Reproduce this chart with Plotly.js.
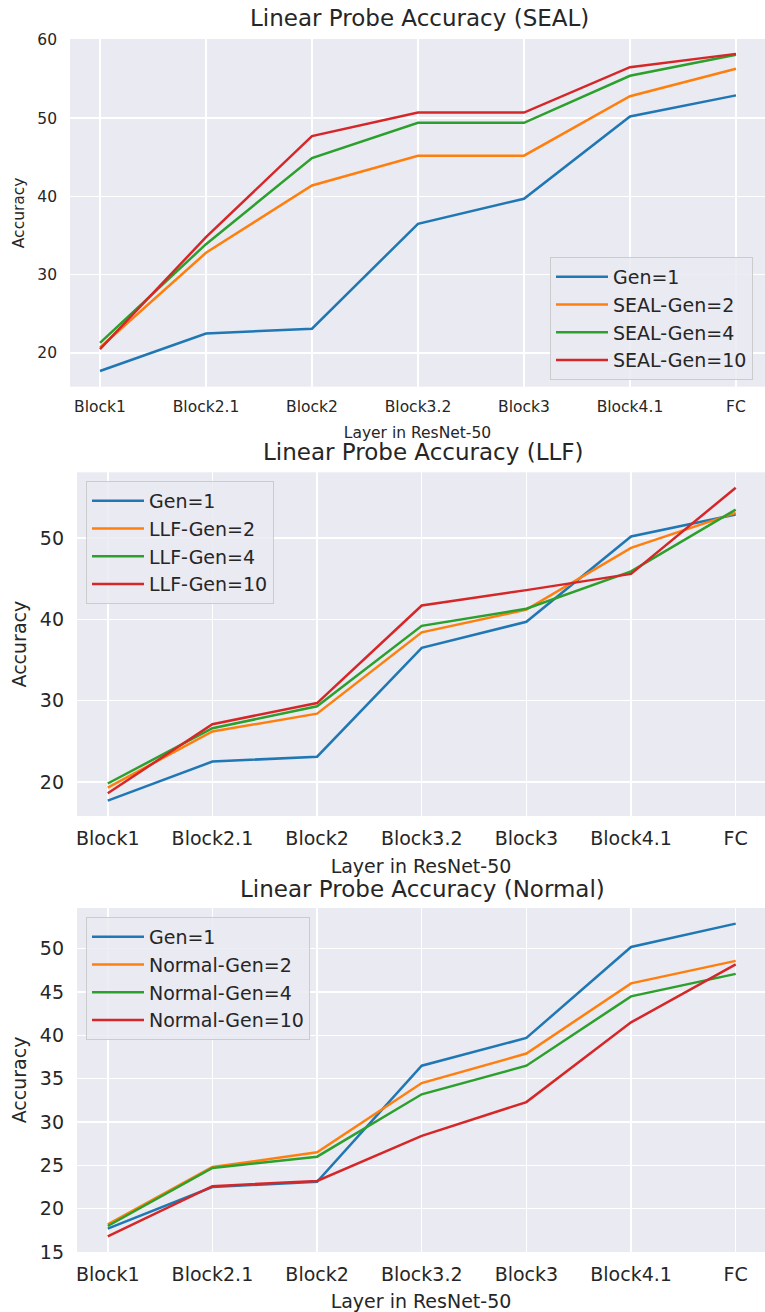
<!DOCTYPE html>
<html>
<head>
<meta charset="utf-8">
<script src="https://cdn.plot.ly/plotly-3.0.1.min.js"></script>
<style>html,body{margin:0;padding:0;background:#fff;}#chart{width:765px;height:1312px;}</style>
</head>
<body>
<div id="chart"></div>
<script>
// ---- data ----
const layers = ['Block1','Block2.1','Block2','Block3.2','Block3','Block4.1','FC'];
const gen1    = [17.7, 22.5, 23.1, 36.5, 39.7, 50.2, 52.9];
const seal2   = [20.7, 32.8, 41.4, 45.2, 45.2, 52.8, 56.3];
const seal4   = [21.3, 33.9, 44.9, 49.4, 49.4, 55.4, 58.1];
const seal10  = [20.5, 34.8, 47.7, 50.7, 50.7, 56.5, 58.2];
const llf2    = [19.3, 26.2, 28.4, 38.4, 41.2, 48.8, 53.1];
const llf4    = [19.8, 26.6, 29.3, 39.2, 41.3, 45.9, 53.5];
const llf10   = [18.6, 27.1, 29.7, 41.7, 43.6, 45.6, 56.2];
const normal2 = [18.2, 24.8, 26.5, 34.5, 37.9, 46.0, 48.6];
const normal4 = [18.0, 24.7, 26.0, 33.2, 36.5, 44.5, 47.1];
const normal10= [16.8, 22.6, 23.2, 28.4, 32.3, 41.5, 48.2];
const titles = ['Linear Probe Accuracy (SEAL)','Linear Probe Accuracy (LLF)','Linear Probe Accuracy (Normal)'];
const xTitle = 'Layer in ResNet-50';
const yTitle = 'Accuracy';

const colors = ['#1f77b4','#ff7f0e','#2ca02c','#d62728'];
const FONT = 'DejaVu Sans, sans-serif';
const TXT = '#262626';

const panels = [
  {prefix:'SEAL',   series:[gen1, seal2, seal4, seal10]},
  {prefix:'LLF',    series:[gen1, llf2, llf4, llf10]},
  {prefix:'Normal', series:[gen1, normal2, normal4, normal10]}
];
const gens = ['1','2','4','10'];

const traces = [];
panels.forEach((p, i) => {
  p.series.forEach((s, j) => {
    traces.push({
      type:'scatter', mode:'lines',
      x: layers, y: s,
      name: j === 0 ? 'Gen=1' : p.prefix + '-Gen=' + gens[j],
      line:{color:colors[j], width:2.5},
      xaxis: i === 0 ? 'x' : 'x' + (i+1),
      yaxis: i === 0 ? 'y' : 'y' + (i+1),
      legend: i === 0 ? 'legend' : 'legend' + (i+1)
    });
  });
});

const H = 1312, W = 765;
function ydom(top, bottom){ return [(H-bottom)/H, (H-top)/H]; }

function xaxis(left, range, fs){
  return {
    type:'category', domain:[left/W, 1], range:range, anchor:'free',
    showgrid:true, gridcolor:'#ffffff', gridwidth:1.5, zeroline:false, showline:false,
    ticks:'', ticklabelstandoff: 9,
    tickfont:{family:FONT, size:fs, color:TXT},
    title:{text:xTitle, font:{family:FONT, size:fs, color:TXT}, standoff:11},
    fixedrange:true
  };
}
function yaxis(range, dtick, fs, dom, standoff){
  return {
    domain:dom, range:range, tickmode:'linear', tick0:0, dtick:dtick,
    showgrid:true, gridcolor:'#ffffff', gridwidth:1.5, zeroline:false, showline:false,
    ticks:'', ticklabelstandoff: 12,
    tickfont:{family:FONT, size:fs, color:TXT},
    title:{text:yTitle, font:{family:FONT, size:fs, color:TXT}, standoff:standoff},
    fixedrange:true
  };
}

const d1 = ydom(39, 386.7), d2 = ydom(472.3, 816), d3 = ydom(908, 1252);

const legendBase = (x, y) => ({
  x:x, y:y, xanchor:'left', yanchor:'top', xref:'paper', yref:'paper',
  bgcolor:'rgba(234,234,242,0.85)', bordercolor:'#cccccc', borderwidth:1,
  font:{family:FONT, size:19, color:TXT}, itemwidth:52, tracegroupgap:0
});

const layout = {
  width:W, height:H, margin:{l:0, r:0, t:0, b:0},
  paper_bgcolor:'#ffffff', plot_bgcolor:'#eaeaf2',
  showlegend:true,
  xaxis:  Object.assign(xaxis(70, [-0.283, 6.274], 15.5), {position:d1[0]}),
  xaxis2: Object.assign(xaxis(77, [-0.294, 6.28], 19), {position:d2[0]}),
  xaxis3: Object.assign(xaxis(77, [-0.294, 6.28], 19), {position:d3[0]}),
  yaxis:  Object.assign(yaxis([15.7, 60.1], 10, 15.5, d1, 8), {anchor:'x'}),
  yaxis2: Object.assign(yaxis([15.8, 58.1], 10, 19, d2, 8), {anchor:'x2'}),
  yaxis3: Object.assign(yaxis([15.0, 54.7], 5, 19, d3, 8), {anchor:'x3'}),
  legend:  legendBase(550/W, (H-257)/H),
  legend2: legendBase(86/W, (H-481)/H),
  legend3: legendBase(86/W, (H-917)/H),
  annotations: [
    {text:titles[0], x:(70+768)/2/W, y:(H-18)/H},
    {text:titles[1], x:(77+768)/2/W, y:(H-452)/H},
    {text:titles[2], x:(77+768)/2/W, y:(H-889)/H}
  ].map(a => Object.assign(a, {xref:'paper', yref:'paper', xanchor:'center', yanchor:'middle', showarrow:false,
        font:{family:FONT, size:23, color:TXT}}))
};

Plotly.newPlot('chart', traces, layout, {staticPlot:true, displayModeBar:false});
</script>
</body>
</html>
